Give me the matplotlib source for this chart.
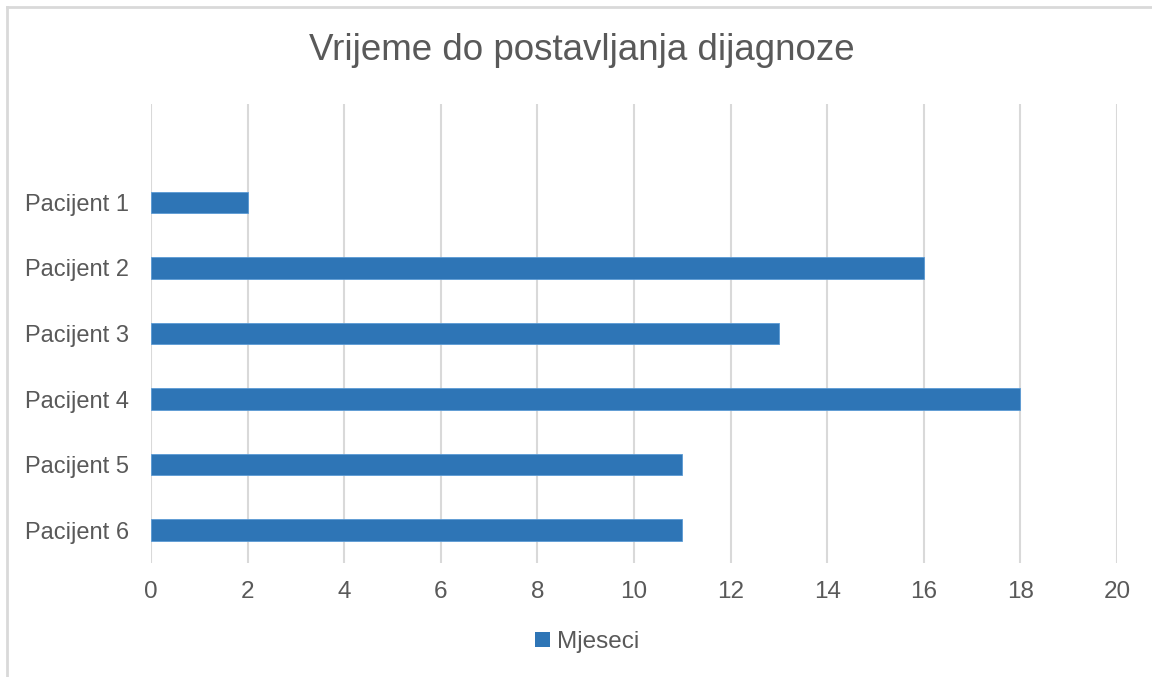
import matplotlib
matplotlib.use("Agg")
import matplotlib.pyplot as plt
from matplotlib.lines import Line2D
from matplotlib.patches import Patch

patients = ["Pacijent 1", "Pacijent 2", "Pacijent 3", "Pacijent 4", "Pacijent 5", "Pacijent 6"]
months = [2, 16, 13, 18, 11, 11]
xticks = [0, 2, 4, 6, 8, 10, 12, 14, 16, 18, 20]

plt.rcParams["font.family"] = ["Liberation Sans", "DejaVu Sans"]
txt = "#595959"
grid = "#d9d9d9"
blue = "#2e75b6"

fig = plt.figure(figsize=(11.52, 6.77), dpi=100)
ax = fig.add_axes([151 / 1152, 1 - 563 / 677, (1117 - 151) / 1152, (563 - 104) / 677])

# first patient on top, one empty slot above like the original
pos = list(range(len(patients) - 1, -1, -1))
ax.barh(pos, months, height=0.33, color=blue, edgecolor="#5b9bd5", linewidth=0.6, zorder=3)

ax.set_xlim(0, 20)
ax.set_ylim(-0.5, len(patients) + 0.5)
ax.set_xticks(xticks)
ax.set_yticks(pos)
ax.set_yticklabels(patients)
ax.tick_params(axis="x", length=0, pad=13, labelsize=17.5, labelcolor=txt)
ax.tick_params(axis="y", length=0, pad=16, labelsize=17, labelcolor=txt)
ax.grid(axis="x", color=grid, linewidth=1.5, zorder=0)
for s in ax.spines.values():
    s.set_visible(False)

fig.text(582 / 1152, 1 - 50 / 677, "Vrijeme do postavljanja dijagnoze", ha="center", va="center",
         fontsize=26.5, color=txt)

fig.legend(handles=[Patch(facecolor=blue, label="Mjeseci")], loc="center",
           bbox_to_anchor=(587 / 1152, 1 - 642 / 677), frameon=False, fontsize=17.5,
           labelcolor=txt, handlelength=0.6, handleheight=0.6, handletextpad=0.3)

# chart border (only top/left visible in the crop)
fig.add_artist(Line2D([7 / 1152, 7 / 1152], [0, 1 - 7 / 677], color=grid, linewidth=2))
fig.add_artist(Line2D([7 / 1152, 1], [1 - 7 / 677, 1 - 7 / 677], color=grid, linewidth=2))

fig.savefig("out.png", dpi=100, facecolor="white")
